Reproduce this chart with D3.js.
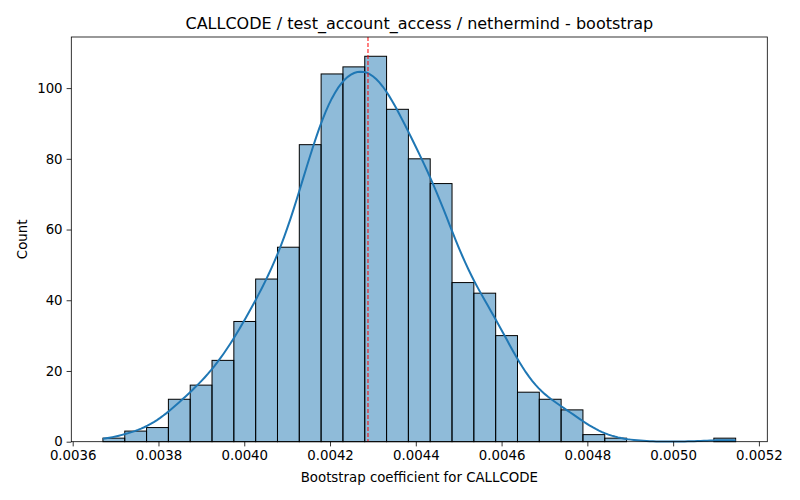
<!DOCTYPE html>
<html>
<head>
<meta charset="utf-8">
<script src="https://cdn.jsdelivr.net/npm/d3@7.9.0/dist/d3.min.js"></script>
<style>
  body { margin: 0; background: #fff; }
  svg { font-family: "DejaVu Sans", sans-serif; }
</style>
</head>
<body>
<svg id="chart" width="800" height="500"></svg>
<script>
// histogram of 1000 bootstrap coefficients, 29 equal bins
const binLo = 0.0036705;
const binHi = 0.0051458;
const counts = [1, 3, 4, 12, 16, 23, 34, 46, 55, 84, 104, 106, 109, 94, 80,
                73, 45, 42, 30, 14, 12, 9, 2, 1, 0, 0, 0, 0, 1];
const meanValue = 0.0042885;
const xTicks = [0.0036, 0.0038, 0.0040, 0.0042, 0.0044, 0.0046, 0.0048, 0.0050, 0.0052];
const yTicks = [0, 20, 40, 60, 80, 100];

const svg = d3.select('#chart');
const margin = { left: 71.3, right: 800 - 767.3, top: 37, bottom: 500 - 441.7 };
const W = 800 - margin.left - margin.right;
const H = 500 - margin.top - margin.bottom;

const binW = (binHi - binLo) / counts.length;
const bins = counts.map((c, i) => ({ x0: binLo + i * binW, x1: binLo + (i + 1) * binW, count: c }));

// matplotlib style 5% margins
const span = binHi - binLo;
const x = d3.scaleLinear().domain([binLo - 0.05 * span, binHi + 0.05 * span]).range([0, W]);
const y = d3.scaleLinear().domain([0, d3.max(counts) * 1.05]).range([H, 0]);

const g = svg.append('g').attr('transform', `translate(${margin.left},${margin.top})`);

// bars
g.selectAll('rect.bar')
  .data(bins.filter(d => d.count > 0))
  .join('rect')
  .attr('class', 'bar')
  .attr('x', d => x(d.x0))
  .attr('y', d => y(d.count))
  .attr('width', d => x(d.x1) - x(d.x0))
  .attr('height', d => y(0) - y(d.count))
  .attr('fill', 'rgba(31,119,180,0.5)')
  .attr('stroke', '#000')
  .attr('stroke-width', 1);

// kde from the binned counts (gaussian, scott bandwidth), scaled to counts
const n = d3.sum(counts);
const centers = bins.map(d => (d.x0 + d.x1) / 2);
const mu = d3.sum(centers, (c, i) => c * counts[i]) / n;
const variance = d3.sum(centers, (c, i) => counts[i] * (c - mu) ** 2) / (n - 1);
const bw = Math.sqrt(variance) * Math.pow(n, -0.2);
const kde = v => d3.sum(centers, (c, i) => counts[i] * Math.exp(-0.5 * ((v - c) / bw) ** 2))
  / (n * bw * Math.sqrt(2 * Math.PI));
const grid = d3.range(200).map(i => binLo + i * span / 199);
const kdePts = grid.map(v => [v, kde(v) * n * binW]);

g.append('path')
  .datum(kdePts)
  .attr('fill', 'none')
  .attr('stroke', '#1f77b4')
  .attr('stroke-width', 2)
  .attr('d', d3.line().x(d => x(d[0])).y(d => y(d[1])));

// mean line
g.append('line')
  .attr('x1', x(meanValue)).attr('x2', x(meanValue))
  .attr('y1', 0).attr('y2', H)
  .attr('stroke', 'red')
  .attr('stroke-width', 1)
  .attr('stroke-dasharray', '4,2');

// axes
const xAxis = g.append('g').attr('transform', `translate(0,${H})`)
  .call(d3.axisBottom(x).tickValues(xTicks).tickFormat(d3.format('.4f')).tickSizeOuter(0).tickSize(4.7).tickPadding(4));
const yAxis = g.append('g')
  .call(d3.axisLeft(y).tickValues(yTicks).tickSizeOuter(0).tickSize(4.7).tickPadding(4));
[xAxis, yAxis].forEach(a => {
  a.select('.domain').remove();
  a.selectAll('text').attr('font-size', 13.33).attr('fill', '#000').attr('font-family', 'DejaVu Sans');
  a.selectAll('line').attr('stroke', '#000').attr('stroke-width', 0.8);
});

// frame
g.append('rect')
  .attr('width', W).attr('height', H)
  .attr('fill', 'none').attr('stroke', '#000').attr('stroke-width', 0.8);

// labels
svg.append('text')
  .attr('x', margin.left + W / 2).attr('y', 29)
  .attr('text-anchor', 'middle').attr('font-size', 16)
  .text('CALLCODE / test_account_access / nethermind - bootstrap');
svg.append('text')
  .attr('x', margin.left + W / 2).attr('y', 482)
  .attr('text-anchor', 'middle').attr('font-size', 13.33)
  .text('Bootstrap coefficient for CALLCODE');
svg.append('text')
  .attr('transform', `translate(27,${margin.top + H / 2}) rotate(-90)`)
  .attr('text-anchor', 'middle').attr('font-size', 13.33)
  .text('Count');
</script>
</body>
</html>
